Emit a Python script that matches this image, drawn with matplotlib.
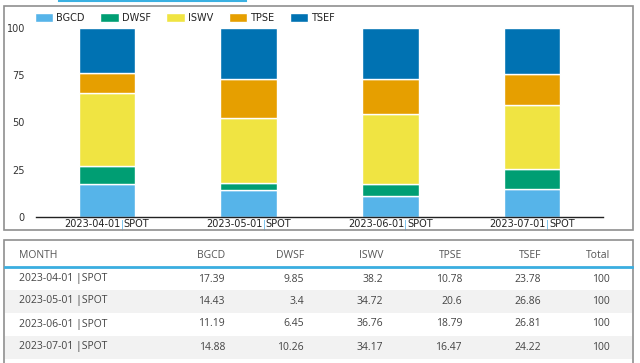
import matplotlib
matplotlib.use("Agg")
import matplotlib.pyplot as plt
from matplotlib.patches import Rectangle
from matplotlib.lines import Line2D

months = ["2023-04-01", "2023-05-01", "2023-06-01", "2023-07-01"]
kind = "SPOT"
series = ["BGCD", "DWSF", "ISWV", "TPSE", "TSEF"]
bgcd = [17.39, 14.43, 11.19, 14.88]
dwsf = [9.85, 3.4, 6.45, 10.26]
iswv = [38.2, 34.72, 36.76, 34.17]
tpse = [10.78, 20.6, 18.79, 16.47]
tsef = [23.78, 26.86, 26.81, 24.22]
totals = [100, 100, 100, 100]
yticks = [0, 25, 50, 75, 100]

colors = ["#56B4E9", "#009E73", "#F0E442", "#E69F00", "#0072B2"]
values = [bgcd, dwsf, iswv, tpse, tsef]

W, H = 640, 363
def fx(px):
    return px / W
def fy(py):
    return 1 - py / H

fig = plt.figure(figsize=(6.4, 3.63), dpi=100)
renderer = fig.canvas.get_renderer()

# panel frames
fig.add_artist(Rectangle((fx(4), fy(230)), fx(633) - fx(4), fy(6) - fy(230),
                         transform=fig.transFigure, fill=False, ec="#8f8f8f", lw=1.2))
fig.add_artist(Rectangle((fx(4), fy(370)), fx(633) - fx(4), fy(240) - fy(370),
                         transform=fig.transFigure, fill=False, ec="#8f8f8f", lw=1.2))
fig.add_artist(Line2D([fx(59), fx(246)], [fy(0.5), fy(0.5)], transform=fig.transFigure,
                      color="#3bb1e2", lw=1.5))

# chart
ax = fig.add_axes([fx(36), fy(217), fx(603) - fx(36), fy(28) - fy(217)])
x = list(range(len(months)))
bottom = [0.0] * len(months)
handles = []
for name, vals, c in zip(series, values, colors):
    b = ax.bar(x, vals, bottom=bottom, width=0.4, color=c, edgecolor="white",
               linewidth=1, label=name)
    handles.append(b)
    bottom = [bo + v for bo, v in zip(bottom, vals)]

ax.set_xlim(-0.5, 3.5)
ax.set_ylim(0, 100)
ax.set_yticks(yticks)
ax.set_yticklabels([str(t) for t in yticks])
ax.tick_params(axis="y", length=0, pad=8, labelsize=7, labelcolor="#333333")
ax.set_xticks([])
for s in ["top", "right", "left"]:
    ax.spines[s].set_visible(False)
ax.spines["bottom"].set_color("#222222")
ax.spines["bottom"].set_linewidth(1)

# x labels "date|SPOT" with a blue separator, centred as a whole under the bar
def text_width(s):
    t = fig.text(0, 0, s, size=7)
    w = t.get_window_extent(renderer).width
    t.remove()
    return w

for i, m in enumerate(months):
    wm, wp, ws = text_width(m), text_width("|"), text_width(kind)
    total = wm + wp + ws
    left = -total / 2
    kw = dict(xycoords=("data", "axes fraction"), textcoords="offset pixels",
              va="baseline", size=7)
    ax.annotate(m, (i, 0), xytext=(left, -10), ha="left", color="#222222", **kw)
    ax.annotate("|", (i, 0), xytext=(left + wm, -10), ha="left", color="#56B4E9", **kw)
    ax.annotate(kind, (i, 0), xytext=(left + wm + wp, -10), ha="left", color="#222222", **kw)

fig.legend(handles=handles, labels=series, loc="center left",
           bbox_to_anchor=(fx(35), fy(18)), ncol=5, frameon=False, fontsize=7,
           handlelength=1.9, handleheight=1.1, handletextpad=0.3,
           columnspacing=1.6, borderpad=0, borderaxespad=0, labelcolor="#222222")

# table
tfont = "Open Sans"
row_y = [279, 301, 324, 347]
col_x = [225, 304, 383, 462, 541, 610]
headers = ["BGCD", "DWSF", "ISWV", "TPSE", "TSEF", "Total"]
for r in (1, 3):
    top = 290 if r == 1 else 336
    fig.add_artist(Rectangle((fx(5), fy(top + 23)), fx(632) - fx(5), fy(top) - fy(top + 23),
                             transform=fig.transFigure, color="#f2f2f2", lw=0, zorder=0))
fig.add_artist(Line2D([fx(5), fx(632)], [fy(266.5), fy(266.5)], transform=fig.transFigure,
                      color="#3aaee0", lw=2))
fig.text(fx(19), fy(255), "MONTH", family=tfont, size=7.5, color="#555555",
         ha="left", va="center")
for h, cx in zip(headers, col_x):
    fig.text(fx(cx), fy(255), h, family=tfont, size=7.5, color="#555555",
             ha="right", va="center")
columns = [bgcd, dwsf, iswv, tpse, tsef, totals]
for i, m in enumerate(months):
    fig.text(fx(19), fy(row_y[i]), m + " |" + kind, family=tfont, size=7.5,
             color="#444444", ha="left", va="center")
    for col, cx in zip(columns, col_x):
        fig.text(fx(cx), fy(row_y[i]), f"{col[i]:g}", family=tfont, size=7.5,
                 color="#444444", ha="right", va="center")

fig.savefig("out.png", dpi=100)
